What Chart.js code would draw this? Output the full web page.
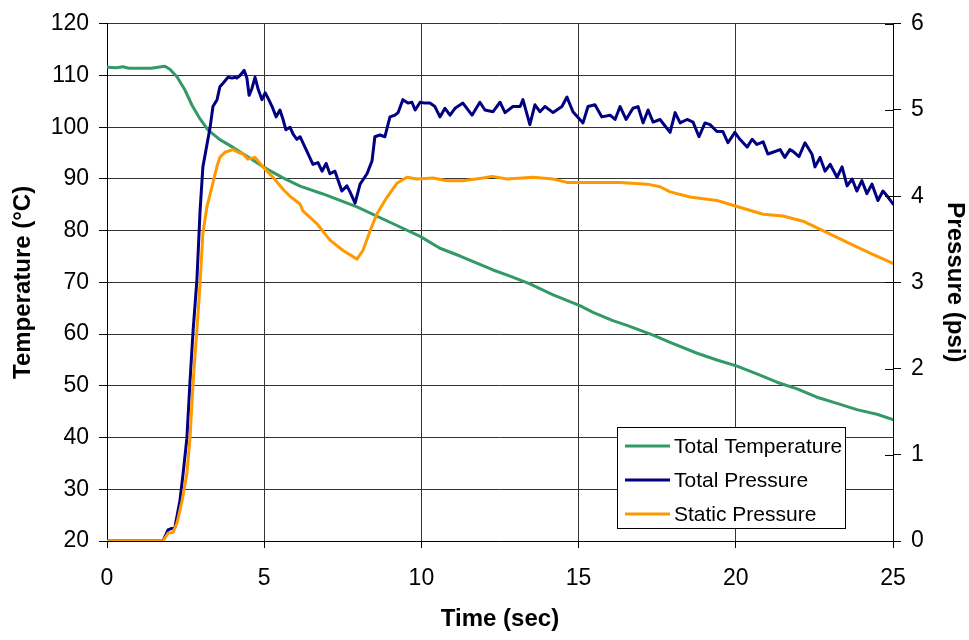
<!DOCTYPE html>
<html>
<head>
<meta charset="utf-8">
<script src="https://cdn.jsdelivr.net/npm/chart.js@4/dist/chart.umd.min.js"></script>
<style>
  html, body { margin: 0; padding: 0; background: #fff; }
  #wrap { width: 969px; height: 640px; }
</style>
</head>
<body>
<div id="wrap"><canvas id="chart" width="969" height="640"></canvas></div>
<script>
// Tick labels
const timeTicks = [0, 5, 10, 15, 20, 25];
const tempTicks = [20, 30, 40, 50, 60, 70, 80, 90, 100, 110, 120];
const psiTicks = [0, 1, 2, 3, 4, 5, 6];

// Total Temperature (°C)
const tempTime = [0, 0.3, 0.5, 0.7, 1.0, 1.4, 1.84, 2.0, 2.23, 2.48, 2.7, 2.96, 3.21, 3.59, 4.01, 4.55, 5.09, 5.6, 6.14, 6.87, 7.95, 9.22,
  9.96, 10.59, 11.23, 12.28, 12.82, 13.45, 14.19, 15.04, 15.46, 16.09, 16.54, 17.37, 17.91, 18.77, 19.4, 20.04, 20.67, 21.31,
  21.95, 22.58, 23.22, 23.85, 24.49, 25];
const totalTemp = [111.6, 111.5, 111.7, 111.4, 111.4, 111.4, 111.8, 111.2, 109.7, 107.2, 104.3, 101.6, 99.5, 97.6, 96.1, 94.0, 91.9, 90.2, 88.6, 87.1, 84.6, 81.0,
  78.9, 76.6, 75.1, 72.4, 71.2, 69.7, 67.6, 65.5, 64.2, 62.6, 61.7, 59.8, 58.4, 56.3, 55.0, 53.8, 52.3, 50.7,
  49.4, 47.8, 46.6, 45.4, 44.5, 43.5];

// Total Pressure (psi)
const totalPTime = [0, 1.78, 1.94, 2.16, 2.32, 2.42, 2.54, 2.64, 2.74, 2.86, 2.96, 3.05, 3.18, 3.28, 3.37, 3.5, 3.59, 3.69, 3.85, 3.98,
  4.07, 4.13, 4.23, 4.36, 4.45, 4.52, 4.61, 4.71, 4.8, 4.93, 5.03, 5.12, 5.25, 5.38, 5.5, 5.6, 5.69, 5.82, 5.92, 6.04,
  6.14, 6.36, 6.55, 6.71, 6.84, 6.97, 7.09, 7.25, 7.47, 7.63, 7.73, 7.89, 8.05, 8.27, 8.43, 8.52, 8.68, 8.84, 9.0, 9.16,
  9.26, 9.41, 9.57, 9.7, 9.8, 9.96, 10.11, 10.27, 10.43, 10.59, 10.75, 10.91, 11.07, 11.32, 11.61, 11.86, 12.02, 12.28, 12.5, 12.66,
  12.91, 13.14, 13.23, 13.45, 13.61, 13.77, 13.93, 14.19, 14.47, 14.63, 14.82, 15.14, 15.3, 15.52, 15.74, 16.0, 16.16, 16.32, 16.51, 16.73,
  16.89, 17.05, 17.21, 17.37, 17.59, 17.91, 18.07, 18.23, 18.45, 18.64, 18.83, 19.02, 19.18, 19.4, 19.59, 19.75, 19.97, 20.13, 20.36, 20.52,
  20.67, 20.87, 21.02, 21.18, 21.41, 21.56, 21.72, 21.82, 22.01, 22.2, 22.42, 22.52, 22.68, 22.84, 23.0, 23.22, 23.38, 23.54, 23.7, 23.85,
  24.01, 24.17, 24.33, 24.52, 24.68, 24.84, 25];
const totalPressure = [0, 0, 0.13, 0.16, 0.47, 0.78, 1.19, 1.85, 2.45, 3.03, 3.83, 4.34, 4.6, 4.8, 5.04, 5.12, 5.27, 5.31, 5.38, 5.37,
  5.38, 5.37, 5.4, 5.46, 5.37, 5.17, 5.25, 5.38, 5.25, 5.12, 5.2, 5.14, 5.04, 4.92, 5.0, 4.89, 4.77, 4.8, 4.72, 4.66,
  4.69, 4.52, 4.37, 4.39, 4.29, 4.38, 4.26, 4.29, 4.06, 4.12, 4.05, 3.92, 4.14, 4.26, 4.41, 4.69, 4.71, 4.69, 4.92, 4.94,
  4.97, 5.12, 5.08, 5.09, 5.0, 5.09, 5.08, 5.08, 5.04, 4.92, 5.02, 4.94, 5.02, 5.08, 4.94, 5.09, 5.0, 4.98, 5.09, 4.97,
  5.04, 5.04, 5.12, 4.83, 5.06, 4.98, 5.04, 4.97, 5.04, 5.15, 4.98, 4.85, 5.04, 5.06, 4.92, 4.94, 4.89, 5.04, 4.89, 5.02,
  5.04, 4.85, 5.0, 4.86, 4.89, 4.74, 4.97, 4.85, 4.89, 4.86, 4.69, 4.85, 4.83, 4.75, 4.75, 4.62, 4.74, 4.66, 4.57, 4.66,
  4.6, 4.63, 4.49, 4.51, 4.54, 4.45, 4.54, 4.52, 4.46, 4.62, 4.49, 4.34, 4.45, 4.29, 4.37, 4.22, 4.34, 4.12, 4.2, 4.06,
  4.18, 4.03, 4.14, 3.95, 4.06, 3.99, 3.91];

// Static Pressure (psi)
const staticPTime = [0, 1.78, 1.94, 2.1, 2.23, 2.39, 2.54, 2.64, 2.74, 2.86, 2.96, 3.05, 3.18, 3.34, 3.5, 3.59, 3.75, 4.01, 4.17, 4.33,
  4.48, 4.71, 4.96, 5.28, 5.6, 5.82, 6.14, 6.23, 6.68, 7.09, 7.51, 7.95, 8.14, 8.37, 8.59, 8.91, 9.22, 9.54, 9.86, 10.37,
  10.81, 11.32, 11.96, 12.25, 12.72, 13.55, 14.19, 14.63, 15.14, 15.68, 16.32, 17.18, 17.59, 17.91, 18.54, 19.4, 20.04, 20.87, 21.5, 22.14,
  22.77, 23.63, 24.27, 25];
const staticPressure = [0, 0, 0.09, 0.1, 0.21, 0.47, 0.78, 1.19, 1.85, 2.45, 2.99, 3.57, 3.88, 4.11, 4.35, 4.45, 4.51, 4.54, 4.51, 4.49,
  4.43, 4.45, 4.34, 4.22, 4.08, 4.0, 3.91, 3.83, 3.68, 3.49, 3.37, 3.27, 3.37, 3.6, 3.8, 3.99, 4.15, 4.22, 4.2, 4.21,
  4.18, 4.18, 4.21, 4.23, 4.2, 4.22, 4.2, 4.16, 4.16, 4.16, 4.16, 4.14, 4.11, 4.05, 3.99, 3.95, 3.88, 3.79, 3.77, 3.71,
  3.6, 3.45, 3.34, 3.22];

const FONT = "'Liberation Sans', Arial, sans-serif";

function pairs(xs, ys) {
  return xs.map((x, i) => ({ x: x, y: ys[i] }));
}

// inner half of the tick marks on the right axis (they cross the axis line)
const innerTicks = {
  id: 'innerTicks',
  afterDraw(chart) {
    const s = chart.scales.y2;
    const ctx = chart.ctx;
    ctx.save();
    ctx.strokeStyle = '#000';
    ctx.lineWidth = 1;
    psiTicks.forEach(v => {
      const y = Math.round(s.getPixelForValue(v)) + 0.5;
      ctx.beginPath();
      ctx.moveTo(s.left - 8, y);
      ctx.lineTo(s.left, y);
      ctx.stroke();
    });
    ctx.restore();
  }
};

// boxed legend sitting inside the plot, lower right
const boxLegend = {
  id: 'boxLegend',
  afterDatasetsDraw(chart) {
    const ctx = chart.ctx;
    const x = 617, y = 427, w = 228, h = 101;
    ctx.save();
    ctx.fillStyle = '#fff';
    ctx.fillRect(x, y, w, h);
    ctx.strokeStyle = '#000';
    ctx.lineWidth = 1;
    ctx.strokeRect(x + 0.5, y + 0.5, w, h);
    ctx.font = '21px ' + FONT;
    ctx.textBaseline = 'middle';
    chart.data.datasets.forEach((ds, i) => {
      const ry = y + 19 + i * 34;
      ctx.strokeStyle = ds.borderColor;
      ctx.lineWidth = 3;
      ctx.beginPath();
      ctx.moveTo(x + 8, ry);
      ctx.lineTo(x + 53, ry);
      ctx.stroke();
      ctx.fillStyle = '#000';
      ctx.fillText(ds.label, x + 57, ry + 1);
    });
    ctx.restore();
  }
};

const tickFont = { family: FONT, size: 23 };
const titleFont = { family: FONT, size: 24, weight: 'bold' };

new Chart(document.getElementById('chart'), {
  type: 'line',
  data: {
    datasets: [
      { label: 'Total Temperature', data: pairs(tempTime, totalTemp), yAxisID: 'y', borderColor: '#339966', order: 3 },
      { label: 'Total Pressure', data: pairs(totalPTime, totalPressure), yAxisID: 'y2', borderColor: '#000080', order: 2 },
      { label: 'Static Pressure', data: pairs(staticPTime, staticPressure), yAxisID: 'y2', borderColor: '#FF9900', order: 1 }
    ]
  },
  options: {
    responsive: false,
    animation: false,
    layout: { padding: { top: 18, left: 0, right: 0, bottom: 0 } },
    elements: {
      point: { radius: 0 },
      line: { borderWidth: 3, tension: 0, borderJoinStyle: 'round', borderCapStyle: 'round' }
    },
    plugins: { legend: { display: false }, tooltip: { enabled: false } },
    scales: {
      x: {
        type: 'linear', min: 0, max: 25,
        afterBuildTicks: s => { s.ticks = timeTicks.map(v => ({ value: v })); },
        afterFit: s => { s.height = 99; },
        ticks: { font: tickFont, color: '#000', padding: 17, maxRotation: 0 },
        grid: { color: '#333', lineWidth: 1, tickLength: 7, tickColor: '#000' },
        border: { color: '#000', width: 1 },
        title: { display: true, text: 'Time (sec)', font: titleFont, color: '#000', padding: { top: 0, bottom: 6 } }
      },
      y: {
        type: 'linear', position: 'left', min: 20, max: 120,
        afterBuildTicks: s => { s.ticks = tempTicks.map(v => ({ value: v })); },
        afterFit: s => { s.width = 107; },
        ticks: { font: tickFont, color: '#000', padding: 10 },
        grid: { color: '#333', lineWidth: 1, tickLength: 8, tickColor: '#000' },
        border: { color: '#000', width: 1 },
        title: { display: true, text: 'Temperature (°C)', font: titleFont, color: '#000', padding: { top: 9, bottom: 0 } }
      },
      y2: {
        type: 'linear', position: 'right', min: 0, max: 6,
        afterBuildTicks: s => { s.ticks = psiTicks.map(v => ({ value: v })); },
        afterFit: s => { s.width = 76; },
        ticks: { font: tickFont, color: '#000', padding: 10 },
        grid: { drawOnChartArea: false, tickLength: 8, tickColor: '#000' },
        border: { color: '#000', width: 1 },
        title: { display: true, text: 'Pressure (psi)', font: titleFont, color: '#000', padding: { top: 0, bottom: 0 } }
      }
    }
  },
  plugins: [innerTicks, boxLegend]
});
</script>
</body>
</html>
